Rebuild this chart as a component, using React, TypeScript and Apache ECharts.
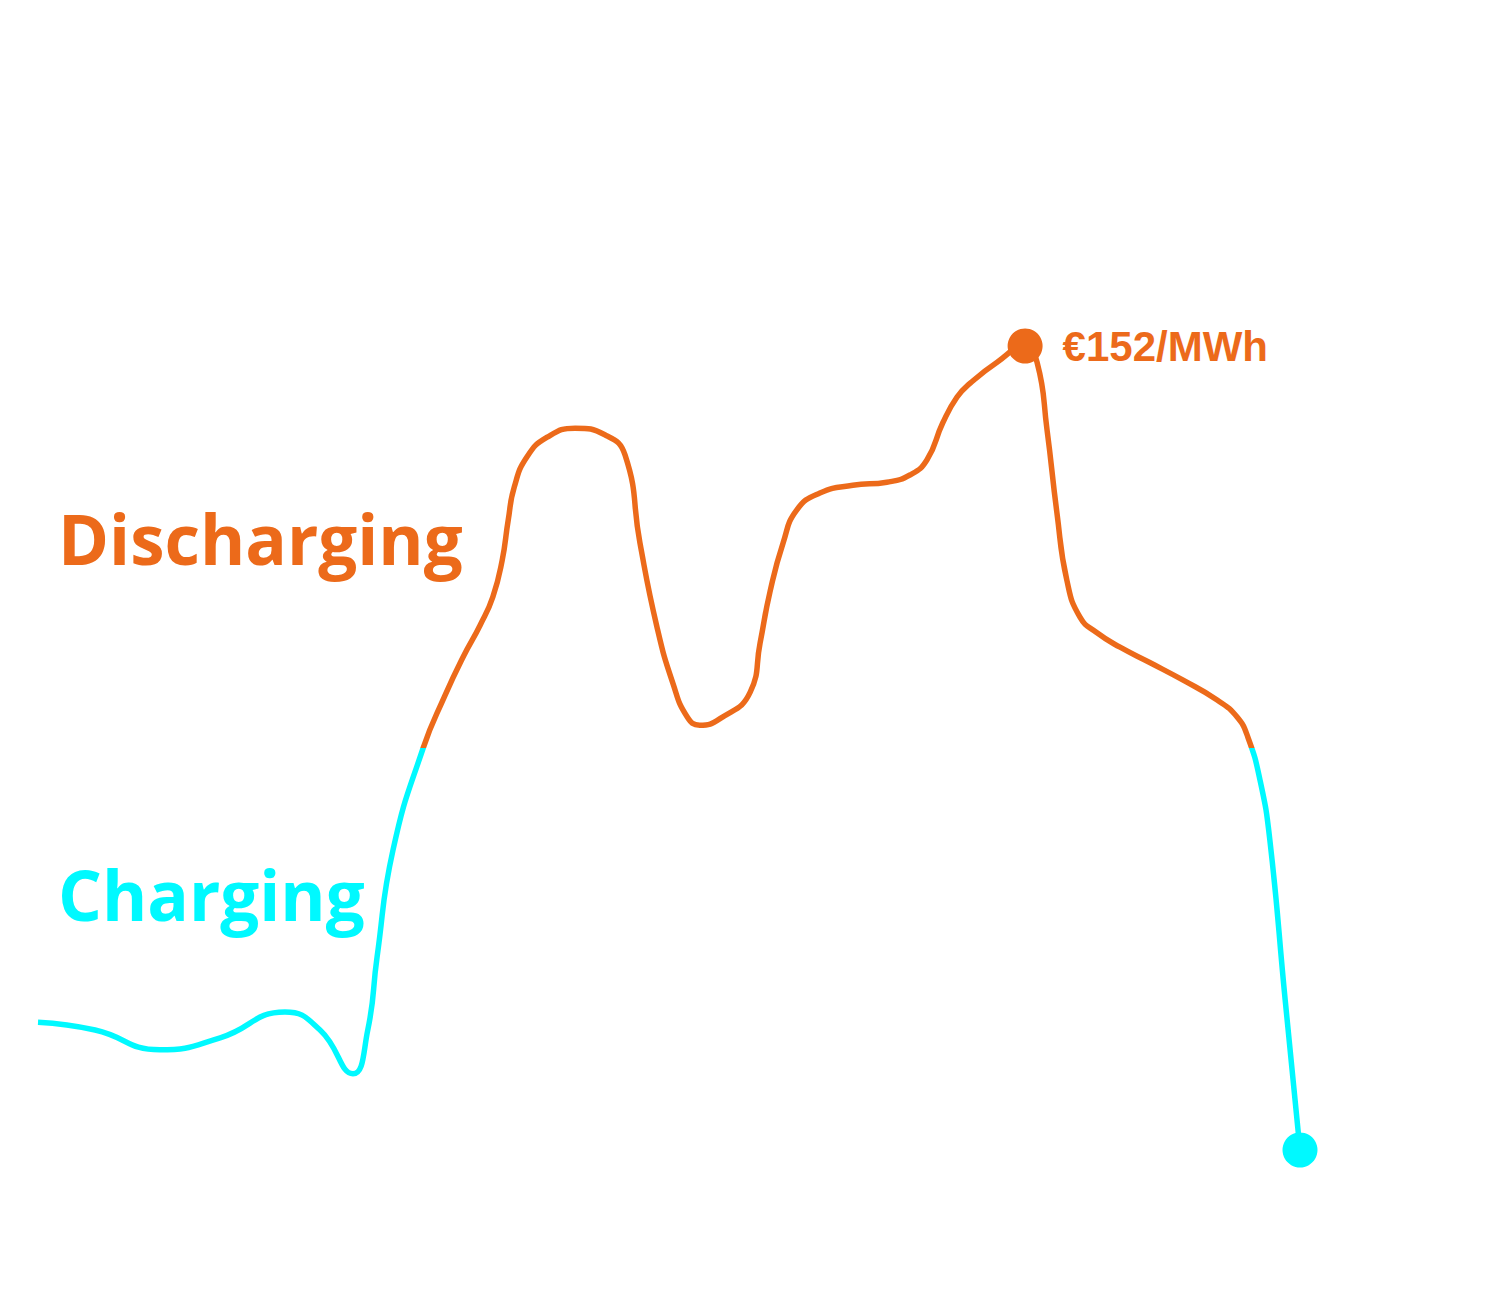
import React, { useEffect, useRef } from "react";
import * as echarts from "echarts";

// Hour of day (x) and price in €/MWh (y)
const hours = [
  0.0, 1.04, 2.22, 3.32, 4.5, 5.14, 5.74, 6.01, 6.18, 6.47, 7.02, 7.42, 7.75, 8.06, 8.29, 8.46,
  8.57, 8.68, 8.91, 9.28, 9.79, 10.33, 10.7, 10.97, 11.28, 11.57, 11.83, 12.06, 12.43,
  12.98, 13.16, 13.34, 13.58, 13.83, 14.25, 14.85, 15.47, 15.89, 16.2, 16.49, 16.75, 16.99,
  17.48, 17.99, 18.21, 18.39, 18.57, 18.75, 18.99, 19.3, 19.72, 20.27, 20.87, 21.49, 21.85,
  22.05, 22.27, 22.45, 22.73, 23.0,
];
const prices = [
  39.3, 38.0, 34.7, 36.7, 41.0, 38.0, 30.7, 38.0, 50.2, 68.0, 85.0, 93.8, 100.2, 105.5, 110.2, 116.3,
  123.0, 128.5, 133.5, 136.8, 138.3, 137.2, 133.8, 119.2, 105.2, 95.8, 90.2, 88.8, 89.9,
  94.3, 102.5, 111.0, 119.2, 124.7, 127.5, 128.8, 129.3, 130.5, 133.0, 139.2, 143.5, 145.8,
  149.3, 152.0, 149.2, 138.0, 124.2, 113.0, 106.8, 104.2, 101.8, 99.2, 96.3, 93.0, 90.2,
  86.8, 79.7, 69.7, 43.0, 18.0,
];
const threshold = 85;
const peakLabel = "€152/MWh";
const chargeText = "Charging";
const dischargeText = "Discharging";

const ORANGE = "#EC6A1A";
const CYAN = "#00F9FF";

export default function App() {
  const ref = useRef<HTMLDivElement>(null);
  useEffect(() => {
    const chart = echarts.init(ref.current!, null, { renderer: "svg" });
    const peakIdx = prices.indexOf(Math.max(...prices));
    const lastIdx = prices.length - 1;
    const data = hours.map((h, i) => {
      const item: any = { value: [h, prices[i]] };
      if (i === peakIdx) {
        item.symbol = "circle";
        item.symbolSize = 35;
        item.label = {
          show: true,
          position: "right",
          distance: 20,
          formatter: peakLabel,
          color: ORANGE,
          fontSize: 42,
          fontWeight: "bold",
          fontFamily: "Liberation Sans, Arial, sans-serif",
        };
      } else if (i === lastIdx) {
        item.symbol = "circle";
        item.symbolSize = 35;
      }
      return item;
    });
    chart.setOption({
      animation: false,
      backgroundColor: "#ffffff",
      grid: { left: 38, right: 200, top: 58, bottom: 42 },
      xAxis: { type: "value", min: 0, max: 23, show: false },
      yAxis: { type: "value", min: 0, max: 200, show: false },
      visualMap: {
        type: "piecewise",
        show: false,
        dimension: 1,
        seriesIndex: 0,
        pieces: [
          { gte: -500, lte: threshold, color: CYAN },
          { gt: threshold, lte: 500, color: ORANGE },
        ],
        outOfRange: { color: ORANGE },
      },
      series: [
        {
          type: "line",
          smooth: 0.5,
          symbol: "none",
          showSymbol: true,
          lineStyle: { width: 5.5 },
          data,
        },
      ],
      graphic: [
        {
          type: "text",
          left: 58,
          top: 503,
          style: {
            text: dischargeText,
            fill: ORANGE,
            font: "bold 69px 'Open Sans', 'Noto Sans', sans-serif",
          },
        },
        {
          type: "text",
          left: 58,
          top: 859,
          style: {
            text: chargeText,
            fill: CYAN,
            font: "bold 69px 'Open Sans', 'Noto Sans', sans-serif",
          },
        },
      ],
    });
    return () => chart.dispose();
  }, []);
  return (
    <div
      ref={ref}
      style={{ position: "absolute", left: 0, top: 0, width: 1500, height: 1300 }}
    />
  );
}
